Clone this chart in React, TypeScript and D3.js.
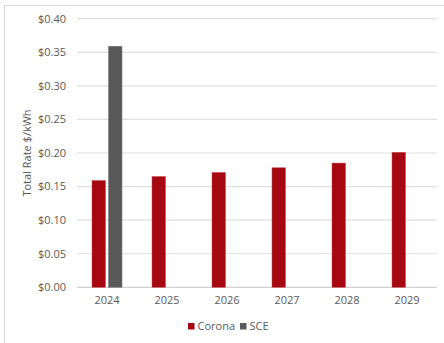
import React from "react";
import * as d3 from "d3";

const years = ["2024", "2025", "2026", "2027", "2028", "2029"];
const corona = [0.159, 0.165, 0.171, 0.178, 0.185, 0.201];
const sce: (number | null)[] = [0.359, null, null, null, null, null];
const yTicks = [0, 0.05, 0.1, 0.15, 0.2, 0.25, 0.3, 0.35, 0.4];
const seriesNames = ["Corona", "SCE"];
const colors = ["#A50810", "#595959"];

export default function App() {
  const W = 444, H = 343;
  const left = 77, right = 437, top = 18.7, bottom = 287.3;
  const x = d3.scaleBand<string>().domain(years).range([left, right]).paddingInner(0).paddingOuter(0);
  const y = d3.scaleLinear().domain([0, 0.4]).range([bottom, top]);
  const bw = 13.5, gap = 3;
  const font = "'Open Sans', 'Liberation Sans', sans-serif";
  const fmt = d3.format("$.2f");
  return (
    <svg width={W} height={H} style={{ position: "absolute", left: 0, top: 0 }} fontFamily={font}>
      <rect x={0} y={0} width={W} height={H} fill="#fff" />
      <path d={`M4.5,${H} V5.5 H${W}`} fill="none" stroke="#d9d9d9" strokeWidth={1} />
      {yTicks.map((t) => (
        <g key={t}>
          <line x1={left} x2={right} y1={y(t)} y2={y(t)} stroke={t === 0 ? "#d0d0d0" : "#e0e0e0"} strokeWidth={1.2} />
          <text x={66} y={y(t)} dy="0.35em" textAnchor="end" fontSize={11} fill="#595959">
            {fmt(t)}
          </text>
        </g>
      ))}
      {years.map((yr, i) => {
        const c = (x(yr) as number) + x.bandwidth() / 2;
        return (
          <g key={yr}>
            <rect x={c - gap / 2 - bw} y={y(corona[i])} width={bw} height={bottom - y(corona[i])} fill={colors[0]} stroke="#c8474d" strokeWidth={0.5} />
            {sce[i] != null && (
              <rect x={c + gap / 2} y={y(sce[i] as number)} width={bw} height={bottom - y(sce[i] as number)} fill={colors[1]} stroke="#7a7a7a" strokeWidth={0.5} />
            )}
            <text x={c} y={304} textAnchor="middle" fontSize={11} fill="#595959">
              {yr}
            </text>
          </g>
        );
      })}
      <text transform={`translate(31,153) rotate(-90)`} textAnchor="middle" fontSize={11} fill="#595959">
        Total Rate $/kWh
      </text>
      <g>
        <rect x={188} y={323} width={6.5} height={6.5} fill={colors[0]} />
        <text x={197.5} y={330} fontSize={11} fill="#595959">{seriesNames[0]}</text>
        <rect x={240} y={323} width={6.5} height={6.5} fill={colors[1]} />
        <text x={249.5} y={330} fontSize={11} fill="#595959">{seriesNames[1]}</text>
      </g>
    </svg>
  );
}
